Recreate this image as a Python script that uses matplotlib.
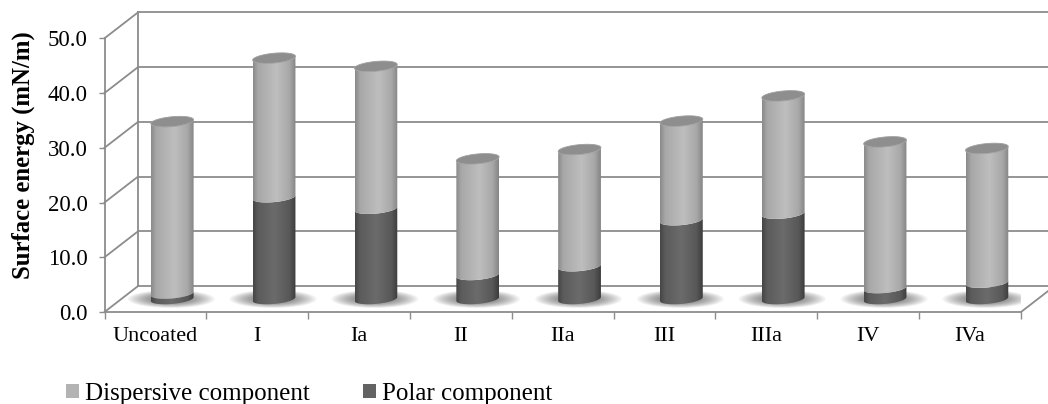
import matplotlib
matplotlib.use("Agg")
import matplotlib.pyplot as plt
import numpy as np
from matplotlib.patches import Polygon, Ellipse, Patch
from matplotlib.colors import LinearSegmentedColormap

categories = ["Uncoated", "I", "Ia", "II", "IIa", "III", "IIIa", "IV", "IVa"]
polar = [1.0, 18.6, 16.5, 4.4, 6.0, 14.4, 15.6, 2.0, 3.0]
dispersive = [31.4, 25.4, 26.0, 21.2, 21.3, 18.1, 21.5, 26.7, 24.5]
y_ticks = [0, 10, 20, 30, 40, 50]

color_disp = "#b3b3b3"
color_polar = "#636363"
grid_color = "#8c8c8c"

cmap_disp = LinearSegmentedColormap.from_list(
    "disp", [(0, "#8a8a8a"), (0.12, "#a8a8a8"), (0.55, "#bebebe"), (0.85, "#a8a8a8"), (1, "#858585")])
cmap_polar = LinearSegmentedColormap.from_list(
    "polar", [(0, "#464646"), (0.12, "#5c5c5c"), (0.5, "#6b6b6b"), (0.85, "#585858"), (1, "#3c3c3c")])

plt.rcParams['font.family'] = ['Liberation Serif', 'DejaVu Serif']

W, H = 1048, 404
fig = plt.figure(figsize=(W / 100, H / 100), dpi=100)
ax = fig.add_axes([104.5 / W, (H - 312) / H, (1021 - 104.5) / W, (312 - 38.3) / H])
n = len(categories)
x_left, x_right = -0.5, n - 0.5
ax.set_xlim(x_left, x_right)
ax.set_ylim(0, 50)

# depth of the fake 3d box (data units) and cylinder shape
dx, dy = 0.33, 4.75
a, b, k = 0.21, 0.9, 0.35

# back wall, left wall and floor
for v in y_ticks:
    ax.plot([x_left + dx, x_right + dx], [v + dy, v + dy], color=grid_color, lw=1.3, clip_on=False, zorder=1)
    ax.plot([x_left, x_left + dx], [v, v + dy], color=grid_color, lw=1.3, clip_on=False, zorder=1)
ax.plot([x_left + dx] * 2, [dy, 50 + dy], color=grid_color, lw=1.3, clip_on=False, zorder=1)
ax.plot([x_right, x_right + dx], [0, dy], color=grid_color, lw=1.3, clip_on=False, zorder=1)


def draw_segment(xc, y0, y1, cmap, cap=None):
    t = np.linspace(np.pi, 2 * np.pi, 80)
    xs = xc + a * np.cos(t)
    low = b * np.sin(t) + k * np.cos(t)
    verts = np.concatenate([np.column_stack([xs, y0 + low]),
                            np.column_stack([xs[::-1], y1 + low[::-1]])])
    body = Polygon(verts, closed=True, transform=ax.transData)
    im = ax.imshow(np.linspace(0, 1, 200)[None, :], cmap=cmap, aspect='auto',
                   extent=(xc - a, xc + a, y0 - b - k, y1 + b + k), zorder=4,
                   interpolation='bilinear')
    im.set_clip_path(body)
    if cap:
        t2 = np.linspace(0, 2 * np.pi, 120)
        ax.add_patch(Polygon(np.column_stack([xc + a * np.cos(t2), y1 + b * np.sin(t2) + k * np.cos(t2)]),
                             closed=True, facecolor=cap, edgecolor='#a0a0a0', lw=0.6, zorder=5))


for i in range(n):
    xc = i + dx / 2
    base = dy / 2
    # soft shadow on the floor
    for w, h in zip(np.linspace(0.86, 0.3, 26), np.linspace(3.3, 1.1, 26)):
        ax.add_patch(Ellipse((xc - 0.01, base), w, h, facecolor='#3c3c3c', edgecolor='none',
                             alpha=0.032, zorder=2))
    draw_segment(xc, base, base + polar[i], cmap_polar)
    draw_segment(xc, base + polar[i], base + polar[i] + dispersive[i], cmap_disp, cap='#8e8e8e')

ax.set_xlim(x_left, x_right)
ax.set_ylim(0, 50)

ax.set_yticks(y_ticks)
ax.set_yticklabels([f"{v:.1f}" for v in y_ticks], fontsize=16.5)
ax.set_xticks(np.arange(x_left, x_right + 0.1, 1))
ax.set_xticklabels([])
ax.set_xticks(range(n), categories, minor=True, fontsize=16)
ax.tick_params(axis='y', length=4.3, width=1, color=grid_color, pad=8)
ax.tick_params(axis='x', which='major', length=5, width=1, color=grid_color)
ax.tick_params(axis='x', which='minor', length=0, pad=10.5)
for s in ['top', 'right']:
    ax.spines[s].set_visible(False)
for s in ['left', 'bottom']:
    ax.spines[s].set_color(grid_color)
    ax.spines[s].set_linewidth(1.3)
ax.patch.set_visible(False)

fig.text(23 / W, (H - 155) / H, "Surface energy (mN/m)", rotation=90, ha='center', va='center',
         fontsize=17.8, fontweight='bold')

handles = [Patch(facecolor=color_disp), Patch(facecolor=color_polar)]
fig.legend(handles, ["Dispersive component", "Polar component"], loc='center left',
           bbox_to_anchor=(66 / W, (H - 394) / H), ncol=2, frameon=False, fontsize=18,
           handlelength=0.52, handleheight=0.52, handletextpad=0.25, columnspacing=2.1,
           borderpad=0, borderaxespad=0)

fig.savefig("out.png", dpi=100)
